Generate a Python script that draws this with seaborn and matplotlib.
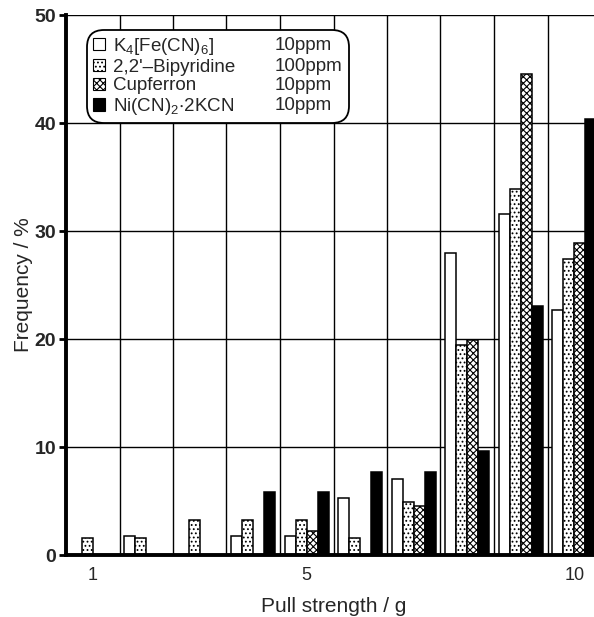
import numpy as np
import pandas as pd
import matplotlib
matplotlib.use('Agg')
import matplotlib.pyplot as plt
import seaborn as sns
from matplotlib.patches import Patch

# Data (frequency in %)
strengths = ['1', '2', '3', '4', '5', '6', '7', '8', '9', '10']
reagents = ['K4Fe', 'Bipy', 'Cupf', 'NiKCN']
k4fe = [0, 1.8, 0, 1.8, 1.8, 5.3, 7.0, 28.0, 31.6, 22.7]
bipy = [1.6, 1.6, 3.2, 3.2, 3.2, 1.6, 4.9, 19.4, 33.9, 27.4]
cupf = [0, 0, 0, 0, 2.2, 0, 4.5, 19.9, 44.5, 28.9]
nikcn = [0, 0, 0, 5.8, 5.8, 7.7, 7.7, 9.6, 23.1, 40.4]

legend_names = [r'$\mathregular{K_4[Fe(CN)_6]}$',
                "2,2'\u2013Bipyridine",
                'Cupferron',
                r'$\mathregular{Ni(CN)_2{\cdot}2KCN}$']
legend_conc = ['10ppm', '100ppm', '10ppm', '10ppm']
xtick_show = ['1', '5', '10']

df = pd.DataFrame({
    'strength': strengths * 4,
    'reagent': np.repeat(reagents, len(strengths)),
    'freq': k4fe + bipy + cupf + nikcn,
})

sns.set_style('white')
plt.rcParams['font.family'] = ['Liberation Sans', 'DejaVu Sans']
plt.rcParams['hatch.linewidth'] = 0.8

fig = plt.figure(figsize=(5.94, 6.17), dpi=100)
ax = fig.add_axes([66 / 594, 62 / 617, 535 / 594, 540 / 617])

sns.barplot(data=df, x='strength', y='freq', hue='reagent', order=strengths,
            hue_order=reagents, palette=['white', 'white', 'white', 'black'],
            width=0.82, edgecolor='black', linewidth=1.1, legend=False, ax=ax)

styles = [dict(fc='white', hatch=None),
          dict(fc='white', hatch='....'),
          dict(fc='white', hatch='xxxxx'),
          dict(fc='black', hatch=None)]
for cont, st in zip(ax.containers, styles):
    for p in cont.patches:
        p.set_facecolor(st['fc'])
        if st['hatch']:
            p.set_hatch(st['hatch'])

ax.set_xlim(-0.5, 9.5)
ax.set_ylim(0, 50)
ax.set_axisbelow(True)

# category ticks: only 1, 5 and 10 labelled
ax.set_xticks([strengths.index(s) for s in xtick_show])
ax.set_xticklabels(xtick_show, fontsize=13)
ax.tick_params(axis='x', which='major', length=0, pad=9)
ax.set_xticks(np.arange(0.5, 9.5, 1), minor=True)
ax.tick_params(axis='x', which='minor', direction='inout', length=6, width=2.5,
               color='black')
ax.grid(True, axis='x', which='minor', color='black', linewidth=1.0)

ax.set_yticks(np.arange(0, 51, 10))
ax.set_yticklabels([str(v) for v in range(0, 51, 10)], fontsize=14,
                   fontweight='bold')
ax.tick_params(axis='y', direction='out', length=5, width=2, color='black',
               pad=2, left=True)
ax.grid(True, axis='y', which='major', color='black', linewidth=1.0)

for side in ['left', 'bottom']:
    ax.spines[side].set_linewidth(2.8)
    ax.spines[side].set_color('black')
ax.spines['right'].set_visible(False)
ax.spines['top'].set_visible(False)

ax.set_xlabel('Pull strength / g', fontsize=15, labelpad=9)
ax.set_ylabel('Frequency / %', fontsize=15, labelpad=1)

handles = [Patch(facecolor=st['fc'], edgecolor='black', hatch=st['hatch'],
                 linewidth=0.8) for st in styles]
leg = ax.legend(handles, legend_names, loc='upper left', mode='expand',
                bbox_to_anchor=(21 / 535, 435 / 540, 262 / 535, 90 / 540),
                borderaxespad=0, fontsize=13.5, handlelength=0.65,
                handleheight=0.65, handletextpad=0.45, labelspacing=0.1,
                borderpad=0.3, fancybox=True, framealpha=1,
                edgecolor='black')
leg.get_frame().set_linewidth(1.3)
leg.get_frame().set_boxstyle('round', pad=0, rounding_size=0.9)

# concentration column inside the legend box, on each entry's baseline
fig.canvas.draw()
inv = fig.transFigure.inverted()
for h, conc in zip(leg.legend_handles, legend_conc):
    bb = h.get_window_extent()
    _, ybase = inv.transform((0, bb.y0 + 0.5))
    fig.text(275 / 594, ybase, conc, fontsize=13.5, ha='left', va='baseline')

fig.savefig('out.png', dpi=100)
